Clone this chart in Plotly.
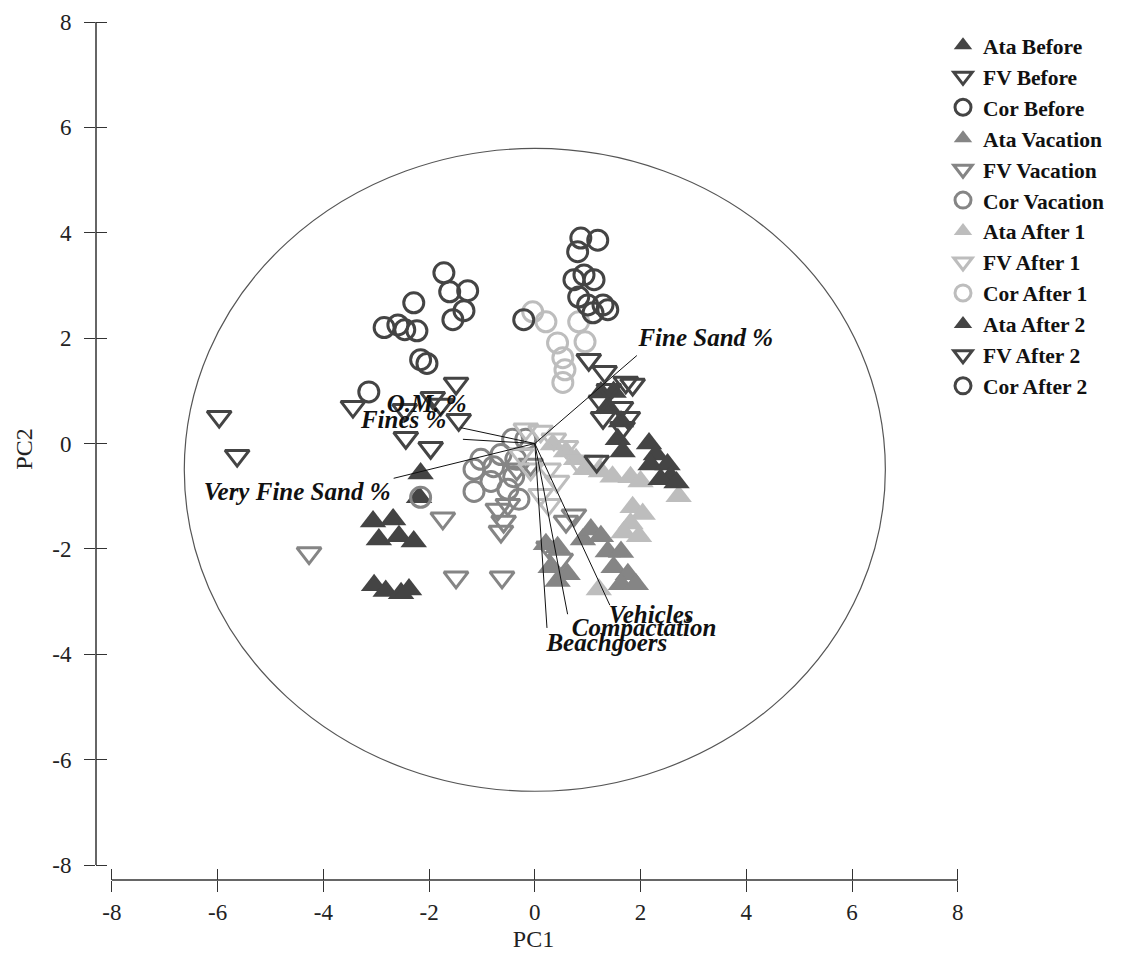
import plotly.graph_objects as go

# ---------------- data (PC1, PC2 scores) ----------------
ata_before_x = [-2.16, -2.19, -3.06, -2.68, -2.95, -2.57, -2.29, -3.04, -2.82, -2.53, -2.38]
ata_before_y = [-0.57, -1.02, -1.48, -1.44, -1.82, -1.76, -1.86, -2.69, -2.80, -2.84, -2.77]

fv_before_x = [-5.97, -5.63, -3.44, -2.44, -1.97, -1.93, -1.49, -1.44, -1.78, -2.46]
fv_before_y = [0.51, -0.23, 0.70, 0.11, -0.08, 0.87, 1.14, 0.45, 0.74, 0.64]

cor_before_x = [-1.72, -1.61, -1.27, -1.34, -1.55, -2.29, -2.85, -2.59, -2.46, -2.23, -2.16, -2.04, -3.14]
cor_before_y = [3.24, 2.88, 2.90, 2.52, 2.35, 2.67, 2.20, 2.25, 2.16, 2.14, 1.59, 1.52, 0.98]

ata_vac_x = [0.21, 0.43, 0.30, 0.43, 0.62, 0.91, 1.06, 1.25, 1.38, 1.63, 1.49, 1.76, 1.63, 1.91]
ata_vac_y = [-1.91, -1.97, -2.35, -2.61, -2.48, -1.82, -1.63, -1.76, -2.05, -2.06, -2.35, -2.48, -2.67, -2.67]

fv_vac_x = [-4.27, -1.74, -1.49, -0.62, -0.70, -0.59, -0.64, -0.51, 0.59, 0.74, 0.26, 0.49, -0.08, -0.34]
fv_vac_y = [-2.08, -1.42, -2.54, -2.54, -1.25, -1.48, -1.67, -1.16, -1.48, -1.36, -1.97, -2.20, -0.40, -0.49]

cor_vac_x = [-2.16, -1.15, -0.78, -1.15, -0.40, -0.51, -0.30, -1.02, -0.64, -0.36, -0.83, -0.17, -0.42]
cor_vac_y = [-1.02, -0.49, -0.44, -0.91, -0.63, -0.87, -1.06, -0.30, -0.21, -0.30, -0.72, 0.08, 0.08]

ata_a1_x = [0.34, 0.59, 0.78, 1.25, 1.47, 1.81, 2.00, 2.72, 1.85, 2.04, 1.81, 1.68, 1.97, 1.21, 0.96]
ata_a1_y = [-0.02, -0.15, -0.30, -0.53, -0.63, -0.64, -0.72, -1.00, -1.21, -1.34, -1.52, -1.69, -1.76, -2.77, -0.49]

fv_a1_x = [-0.17, 0.11, 0.36, 0.59, 0.81, 1.06, 0.26, 0.42, 0.11, 0.26, -0.26, -0.08]
fv_a1_y = [0.27, 0.23, 0.08, -0.06, -0.34, -0.34, -0.49, -0.72, -0.97, -1.16, -0.21, -0.49]

cor_a1_x = [-0.04, 0.21, 0.43, 0.53, 0.57, 0.53, 0.83, 0.95]
cor_a1_y = [2.50, 2.31, 1.91, 1.63, 1.40, 1.16, 2.31, 1.93]

ata_a2_x = [1.25, 1.49, 1.38, 1.63, 1.57, 1.66, 2.16, 2.29, 2.19, 2.51, 2.57, 2.38, 2.68]
ata_a2_y = [0.97, 0.98, 0.70, 0.42, 0.08, -0.15, 0.00, -0.21, -0.40, -0.40, -0.63, -0.68, -0.74]

fv_a2_x = [1.02, 1.32, 1.40, 1.72, 1.85, 1.25, 1.63, 1.29, 1.76, 1.66, 1.17]
fv_a2_y = [1.59, 1.36, 1.02, 1.16, 1.12, 0.80, 0.68, 0.49, 0.49, 0.30, -0.34]

cor_a2_x = [0.87, 1.19, 0.81, 0.93, 0.74, 1.12, 0.83, 1.00, 1.29, 1.38, 1.10, -0.21]
cor_a2_y = [3.90, 3.86, 3.64, 3.20, 3.11, 3.11, 2.78, 2.63, 2.63, 2.54, 2.48, 2.35]

# loading vectors
vec_names = ["Fine Sand %", "Very Fine Sand %", "O.M. %", "Fines %", "Vehicles", "Compactation", "Beachgoers"]
vec_x = [1.93, -2.67, -1.40, -1.36, 1.42, 0.62, 0.23]
vec_y = [1.67, -0.66, 0.30, 0.08, -3.07, -3.24, -3.50]
lab_x = [1.96, -2.73, -2.80, -3.29, 1.40, 0.70, 0.22]
lab_y = [1.97, -0.95, 0.72, 0.42, -3.28, -3.54, -3.81]
lab_pos = ["middle right", "middle left", "middle right", "middle right", "middle right", "middle right", "middle right"]

ticks = [-8, -6, -4, -2, 0, 2, 4, 6, 8]
tick_text = ["-8", "-6", "-4", "-2", "0", "2", "4", "6", "8"]
# correlation circle extent
circ_x = [-6.63, 6.63]
circ_y = [-6.60, 5.60]

DARK = "#444444"
MID = "#858585"
LIGHT = "#bdbdbd"
FONT = "Liberation Serif"

groups = [
    ("Ata Before", ata_before_x, ata_before_y, "triangle-up", DARK),
    ("FV Before", fv_before_x, fv_before_y, "triangle-down-open", DARK),
    ("Cor Before", cor_before_x, cor_before_y, "circle-open", DARK),
    ("Ata Vacation", ata_vac_x, ata_vac_y, "triangle-up", MID),
    ("FV Vacation", fv_vac_x, fv_vac_y, "triangle-down-open", MID),
    ("Cor Vacation", cor_vac_x, cor_vac_y, "circle-open", MID),
    ("Ata After 1", ata_a1_x, ata_a1_y, "triangle-up", LIGHT),
    ("FV After 1", fv_a1_x, fv_a1_y, "triangle-down-open", LIGHT),
    ("Cor After 1", cor_a1_x, cor_a1_y, "circle-open", LIGHT),
    ("Ata After 2", ata_a2_x, ata_a2_y, "triangle-up", DARK),
    ("FV After 2", fv_a2_x, fv_a2_y, "triangle-down-open", DARK),
    ("Cor After 2", cor_a2_x, cor_a2_y, "circle-open", DARK),
]

fig = go.Figure()

for name, xs, ys, sym, col in groups:
    if sym == "triangle-up":
        size, lw = 23, 0
    elif sym == "triangle-down-open":
        size, lw = 21, 3
    else:
        size, lw = 20, 3
    fig.add_trace(go.Scatter(
        x=xs, y=ys, mode="markers", name="<b>" + name + "</b>",
        marker=dict(symbol=sym, size=size, color=col, line=dict(width=lw, color=col)),
    ))

# loading vectors
lx, ly = [], []
for vx, vy in zip(vec_x, vec_y):
    lx += [0, vx, None]
    ly += [0, vy, None]
fig.add_trace(go.Scatter(x=lx, y=ly, mode="lines", line=dict(color="#111111", width=1),
                         showlegend=False, hoverinfo="skip", xaxis="x2", yaxis="y2"))
fig.add_trace(go.Scatter(
    x=lab_x, y=lab_y, mode="text", text=["<b><i>" + n + "</i></b>" for n in vec_names],
    textposition=lab_pos, textfont=dict(family=FONT, size=25, color="#111111"),
    showlegend=False, hoverinfo="skip", xaxis="x2", yaxis="y2"))

XR = [-8.30, 8.25]
YR = [-8.284, 8.076]

axis_common = dict(showgrid=False, zeroline=False, showline=False, tickvals=ticks,
                   ticktext=tick_text, tickcolor="#333333", tickwidth=1.3, ticklen=11,
                   automargin=False)

fig.update_layout(
    width=1126, height=967,
    margin=dict(l=88, r=163, t=10, b=95),
    plot_bgcolor="white", paper_bgcolor="white",
    font=dict(family=FONT, size=23, color="#222222"),
    xaxis=dict(range=XR, ticks="outside", title=dict(text="PC1", font=dict(size=24), standoff=6),
               tickfont=dict(size=23), **axis_common),
    yaxis=dict(range=YR, ticks="outside", title=dict(text="PC2", font=dict(size=24), standoff=12),
               tickfont=dict(size=23), ticklabelstandoff=8, **axis_common),
    xaxis2=dict(range=XR, overlaying="x", anchor="y", side="bottom", ticks="inside",
                showticklabels=False, **axis_common),
    yaxis2=dict(range=YR, overlaying="y", anchor="x", side="left", ticks="inside",
                showticklabels=False, **axis_common),
    legend=dict(x=0.968, y=0.992, xanchor="left", yanchor="top",
                font=dict(family=FONT, size=21.5, color="#111111"),
                bgcolor="rgba(0,0,0,0)", itemsizing="trace", tracegroupgap=0),
    showlegend=True,
)

# axis lines (spanning only the tick range, as in the reference)
fig.add_shape(type="line", xref="x", yref="paper", x0=ticks[0], x1=ticks[-1], y0=0, y1=0,
              line=dict(color="#333333", width=1.5))
fig.add_shape(type="line", xref="paper", yref="y", x0=0, x1=0, y0=ticks[0], y1=ticks[-1],
              line=dict(color="#333333", width=1.5))
# correlation circle
fig.add_shape(type="circle", xref="x", yref="y", x0=circ_x[0], x1=circ_x[1],
              y0=circ_y[0], y1=circ_y[1], line=dict(color="#555555", width=1.2), layer="below")

fig.write_html("out.html")
